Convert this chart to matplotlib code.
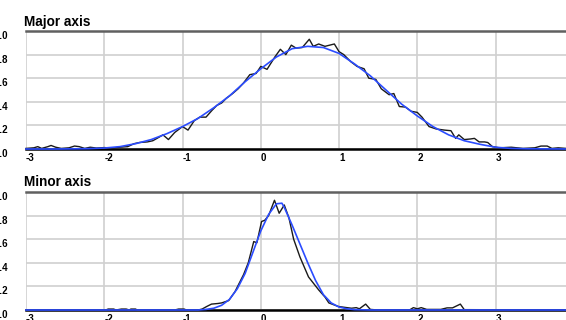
"""Major / minor axis distributions: measured histogram (black) vs fitted curve (blue)."""
import matplotlib
matplotlib.use('Agg')
import matplotlib.pyplot as plt
from matplotlib.ticker import FixedLocator

# === Data ===
major_x = [-3.00, -2.90, -2.85, -2.80, -2.72, -2.68, -2.62, -2.55, -2.45, -2.38,
           -2.32, -2.25, -2.18, -2.10, -2.00, -1.90, -1.80, -1.70, -1.62, -1.55,
           -1.45, -1.38, -1.30, -1.25, -1.18, -1.10, -1.00, -0.93, -0.85, -0.78,
           -0.70, -0.62, -0.56, -0.50, -0.44, -0.36, -0.29, -0.22, -0.14, -0.06,
           0.00, 0.08, 0.18, 0.25, 0.32, 0.39, 0.45, 0.53, 0.62, 0.67,
           0.74, 0.82, 0.94, 1.00, 1.06, 1.15, 1.23, 1.32, 1.38, 1.47,
           1.54, 1.64, 1.70, 1.77, 1.85, 1.92, 2.00, 2.06, 2.15, 2.24,
           2.35, 2.43, 2.49, 2.53, 2.60, 2.68, 2.73, 2.79, 2.86, 2.90,
           2.96, 3.05, 3.20, 3.35, 3.50, 3.58, 3.66, 3.72, 3.80, 3.90]
major_hist = [0.005, 0.010, 0.020, 0.005, 0.020, 0.030, 0.015, 0.005, 0.010, 0.025,
              0.020, 0.005, 0.015, 0.008, 0.012, 0.008, 0.015, 0.020, 0.045, 0.055,
              0.060, 0.070, 0.100, 0.120, 0.080, 0.140, 0.190, 0.160, 0.240, 0.270,
              0.270, 0.330, 0.370, 0.390, 0.430, 0.470, 0.510, 0.560, 0.630, 0.640,
              0.700, 0.675, 0.780, 0.845, 0.800, 0.880, 0.855, 0.860, 0.930, 0.870,
              0.890, 0.870, 0.890, 0.825, 0.800, 0.740, 0.700, 0.680, 0.600, 0.590,
              0.510, 0.460, 0.470, 0.360, 0.355, 0.320, 0.310, 0.270, 0.190, 0.170,
              0.160, 0.155, 0.090, 0.120, 0.080, 0.085, 0.090, 0.060, 0.060, 0.055,
              0.020, 0.010, 0.015, 0.005, 0.010, 0.025, 0.025, 0.005, 0.010, 0.005]

major_fit_x = [-3.0, -2.6, -2.2, -2.0, -1.8, -1.6, -1.4, -1.2, -1.0, -0.8,
               -0.6, -0.4, -0.2, 0.0, 0.2, 0.4, 0.6, 0.8, 1.0, 1.2,
               1.4, 1.6, 1.8, 2.0, 2.2, 2.4, 2.6, 2.8, 3.0, 3.2,
               3.4, 3.9]
major_fit = [0.000, 0.000, 0.003, 0.008, 0.020, 0.045, 0.080, 0.130, 0.190, 0.260,
             0.350, 0.450, 0.570, 0.680, 0.780, 0.850, 0.870, 0.860, 0.810, 0.720,
             0.620, 0.500, 0.380, 0.280, 0.190, 0.120, 0.070, 0.040, 0.015, 0.005,
             0.002, 0.000]

minor_x = [-3.00, -1.98, -1.95, -1.88, -1.85, -1.78, -1.72, -1.68, -1.66, -1.60,
           -1.58, -1.10, -1.05, -0.98, -0.95, -0.80, -0.75, -0.69, -0.63, -0.55,
           -0.50, -0.41, -0.33, -0.22, -0.16, -0.09, -0.05, 0.01, 0.05, 0.10,
           0.175, 0.235, 0.30, 0.36, 0.42, 0.50, 0.61, 0.74, 0.82, 0.87,
           0.99, 1.10, 1.16, 1.22, 1.26, 1.34, 1.40, 1.50, 1.90, 1.95,
           2.00, 2.05, 2.12, 2.30, 2.38, 2.45, 2.55, 2.60, 3.90]
minor_hist = [0.000, 0.000, 0.008, 0.008, 0.000, 0.008, 0.008, 0.000, 0.008, 0.008,
              0.000, 0.000, 0.008, 0.008, 0.000, 0.000, 0.008, 0.030, 0.050, 0.055,
              0.060, 0.080, 0.155, 0.300, 0.400, 0.580, 0.570, 0.750, 0.760, 0.800,
              0.930, 0.820, 0.890, 0.780, 0.600, 0.450, 0.280, 0.170, 0.110, 0.060,
              0.030, 0.020, 0.015, 0.020, 0.010, 0.050, 0.005, 0.000, 0.000, 0.020,
              0.010, 0.020, 0.005, 0.005, 0.018, 0.018, 0.050, 0.003, 0.000]

minor_fit_x = [-3.0, -0.8, -0.7, -0.6, -0.5, -0.4, -0.3, -0.2, -0.1, 0.0,
               0.1, 0.2, 0.27, 0.3, 0.4, 0.5, 0.6, 0.7, 0.8, 0.9,
               1.0, 1.1, 1.2, 1.4, 3.9]
minor_fit = [0.000, 0.000, 0.005, 0.015, 0.040, 0.090, 0.180, 0.310, 0.490, 0.670,
             0.810, 0.900, 0.905, 0.870, 0.720, 0.560, 0.400, 0.250, 0.130, 0.060,
             0.025, 0.010, 0.003, 0.000, 0.000]

x_ticks = [-3, -2, -1, 0, 1, 2, 3]
y_ticks = [0.0, 0.2, 0.4, 0.6, 0.8, 1.0]

panels = [
    ("Major axis", major_x, major_hist, major_fit_x, major_fit),
    ("Minor axis", minor_x, minor_hist, minor_fit_x, minor_fit),
]

# === Figure ===
plt.rcParams['font.family'] = ['Liberation Sans Narrow', 'Liberation Sans', 'DejaVu Sans']
W, H = 566, 320
fig = plt.figure(figsize=(W / 100, H / 100), dpi=100)

# pixel boxes: left, top, bottom (right edge runs to the figure edge)
boxes = [(26, 31, 149), (26, 192, 310)]
title_base = [26, 186]

for (title, hx, hy, fx, fy), (l, t, b), tb in zip(panels, boxes, title_base):
    ax = fig.add_axes([l / W, 1 - b / H, 1 - l / W, (b - t) / H])
    ax.plot(hx, hy, color='#1a1a1a', lw=1.0, zorder=3, clip_on=False)
    ax.plot(fx, fy, color='#2b4cff', lw=1.2, zorder=4, clip_on=False)
    ax.set_xlim(-3, 3.9)
    ax.set_ylim(0, 1.0)
    ax.xaxis.set_major_locator(FixedLocator(x_ticks))
    ax.yaxis.set_major_locator(FixedLocator(y_ticks))
    ax.set_xticklabels([str(v) for v in x_ticks], ha='left',
                       fontsize=7, fontweight='bold')
    # the reference crops the left edge of these labels at the image border
    ax.set_yticklabels([f"{v:.1f}" for v in y_ticks], va='top',
                       fontsize=7, fontweight='bold')
    ax.tick_params(length=0, pad=3)
    ax.tick_params(axis='y', pad=13)
    ax.grid(True, color='#d0d0d0', lw=1.2)
    ax.set_axisbelow(True)
    for side in ('left', 'right'):
        ax.spines[side].set_visible(False)
    ax.spines['top'].set_color('#606060')
    ax.spines['top'].set_linewidth(1.8)
    ax.spines['bottom'].set_color('black')
    ax.spines['bottom'].set_linewidth(1.8)
    fig.text(24 / W, 1 - tb / H, title, fontsize=9.8, fontweight='bold',
             ha='left', va='baseline')

fig.savefig("out.png", dpi=100)
